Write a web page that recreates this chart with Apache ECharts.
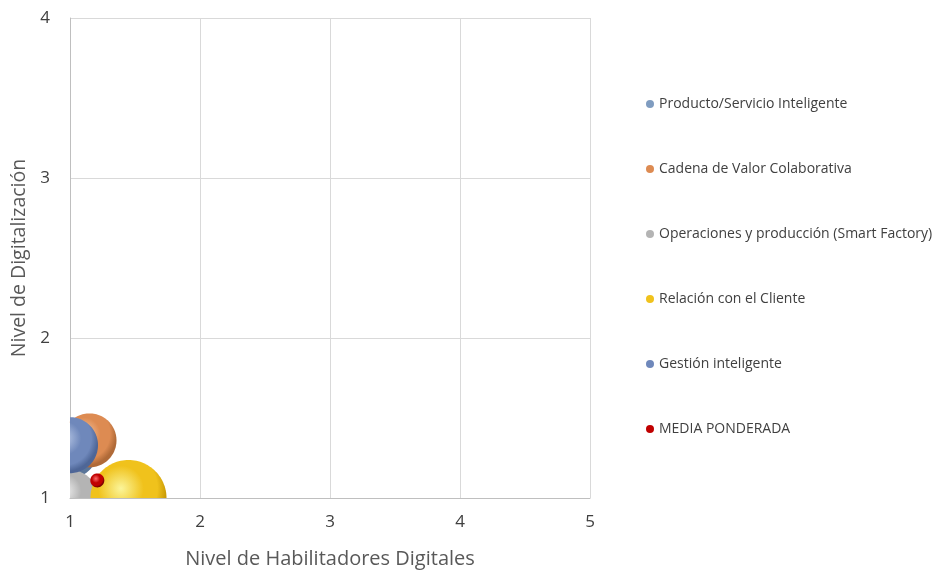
<!DOCTYPE html>
<html><head><meta charset="utf-8">
<script src="https://cdn.jsdelivr.net/npm/echarts@6/dist/echarts.min.js"></script>
<style>html,body{margin:0;padding:0;background:#fff}#c{width:936px;height:574px}</style>
</head><body><div id="c"></div>
<script>
var seriesNames = ['Producto/Servicio Inteligente','Cadena de Valor Colaborativa','Operaciones y producción (Smart Factory)','Relación con el Cliente','Gestión inteligente','MEDIA PONDERADA'];
var xValues = [1.00, 1.15, 1.00, 1.45, 1.00, 1.21];
var yValues = [1.30, 1.36, 1.00, 1.00, 1.33, 1.11];
var bubbleSizes = [28, 27, 28, 38, 28, 7];
var colors = ['#7f9cc0','#dd8b52','#b4b4b4','#f0c21c','#6f88bb','#c00000'];
var lightColors = ['#c9d8ea','#f6c8a4','#f2f2f2','#fbf59a','#b9c8e6','#ff6a6a'];
var darkColors = ['#5a7598','#b06a38','#8e8e8e','#c99a05','#4e6697','#7a0000'];
var xTicks = [1,2,3,4,5];
var yTicks = [1,2,3,4];
var font = '"Open Sans", sans-serif';
var chart = echarts.init(document.getElementById('c'));
var series = seriesNames.map(function(name, i){
  return {
    name: name,
    type: 'custom',
    itemStyle: {color: colors[i]},
    data: [[xValues[i], yValues[i], bubbleSizes[i]]],
    renderItem: function(params, api){
      var lo = api.coord([xTicks[0], yTicks[0]]);
      var hi = api.coord([xTicks[xTicks.length-1], yTicks[yTicks.length-1]]);
      var x0 = Math.min(lo[0], hi[0]), x1 = Math.max(lo[0], hi[0]);
      var y0 = Math.min(lo[1], hi[1]), y1 = Math.max(lo[1], hi[1]);
      var p = api.coord([api.value(0), api.value(1)]);
      var r = api.value(2);
      var pts = [];
      for (var k = 0; k < 120; k++) {
        var a = k / 120 * Math.PI * 2;
        var px = p[0] + r * Math.cos(a), py = p[1] + r * Math.sin(a);
        px = Math.max(x0, Math.min(x1, px));
        py = Math.max(y0, Math.min(y1, py));
        pts.push([px, py]);
      }
      return {
        type: 'polygon',
        shape: {points: pts},
        style: {
          stroke: null, lineWidth: 0,
          fill: new echarts.graphic.RadialGradient(p[0] - 0.2 * r, p[1] - 0.25 * r, r * 1.2, [
            {offset: 0, color: lightColors[i]},
            {offset: 0.5, color: colors[i]},
            {offset: 0.8, color: colors[i]},
            {offset: 1, color: darkColors[i]}
          ], true)
        }
      };
    }
  };
});
chart.setOption({
  animation: false,
  grid: {left: 70, right: 346, top: 18, bottom: 76, containLabel: false, outerBoundsMode: 'none'},
  legend: {
    orient: 'vertical', left: 641, top: 92,
    icon: 'circle', itemWidth: 8, itemHeight: 8, itemGap: 51,
    textStyle: {fontSize: 14, color: '#404040', fontFamily: font},
    data: seriesNames
  },
  xAxis: {
    type: 'value', min: xTicks[0], max: xTicks[xTicks.length-1], interval: 1,
    name: 'Nivel de Habilitadores Digitales', nameLocation: 'middle', nameGap: 51,
    nameTextStyle: {fontSize: 20, color: '#595959', fontFamily: font},
    axisLine: {show: true, lineStyle: {color: '#bfbfbf'}},
    axisTick: {show: false},
    axisLabel: {fontSize: 17, color: '#404040', fontFamily: font, margin: 16},
    splitLine: {show: true, lineStyle: {color: '#d9d9d9'}}
  },
  yAxis: {
    type: 'value', min: yTicks[0], max: yTicks[yTicks.length-1], interval: 1,
    name: 'Nivel de Digitalización', nameLocation: 'middle', nameGap: 40,
    nameTextStyle: {fontSize: 19.5, color: '#595959', fontFamily: font},
    axisLine: {show: true, lineStyle: {color: '#bfbfbf'}},
    axisTick: {show: false},
    axisLabel: {fontSize: 17, color: '#404040', fontFamily: font, margin: 20},
    splitLine: {show: true, lineStyle: {color: '#d9d9d9'}}
  },
  series: series
});
</script></body></html>
